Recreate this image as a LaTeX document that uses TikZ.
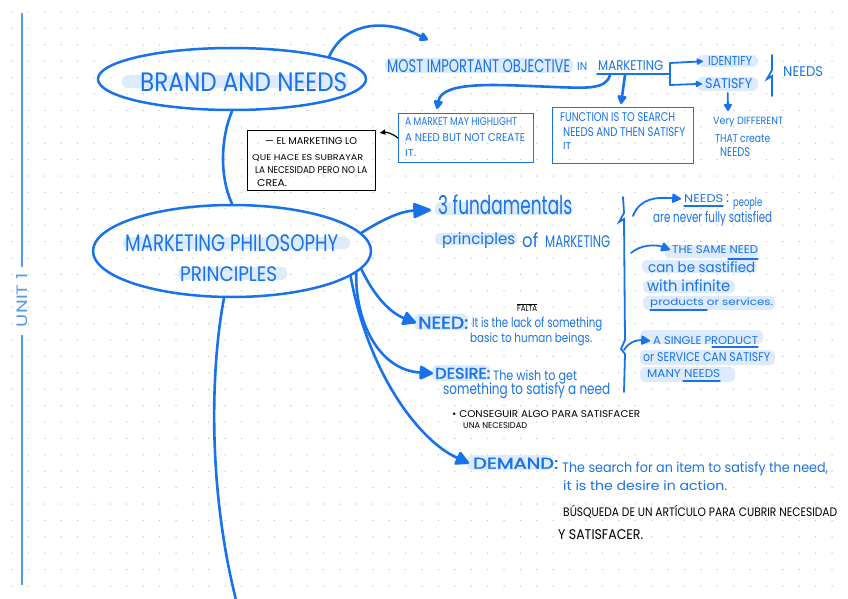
\documentclass[tikz,border=0pt]{standalone}
\usepackage{graphicx}
\usepackage{fontspec}
\setmainfont{Poppins}
\newfontfamily\boldhw[FakeBold=1.6]{Poppins}
\usetikzlibrary{shapes.geometric,arrows.meta}
\definecolor{bl}{RGB}{24,115,235}
\definecolor{bll}{RGB}{85,152,240}
\definecolor{hl}{RGB}{221,235,253}
\definecolor{dotc}{RGB}{196,196,202}
\newcommand\hw[3]{\resizebox*{#1pt}{#2pt}{#3}}
\begin{document}
\begin{tikzpicture}[x=1pt,y=-1pt,
  tx/.style={inner sep=0pt,anchor=south west,text=bl},
  txk/.style={inner sep=0pt,anchor=south west,text=black},
  hlbox/.style={fill=hl,rounded corners=5pt},
  conn/.style={draw=bl,line width=2.6pt,line cap=round},
  thin/.style={draw=bl,line width=1.8pt,line cap=round},
  bigtip/.style={-{Triangle[length=15pt,width=15pt,round]}},
  midtip/.style={-{Triangle[length=10pt,width=10pt,round]}},
  blob/.style={-{Latex[length=8pt,width=8pt,round]}},
  ell/.style={ellipse,draw=bl,line width=2.5pt,inner sep=0pt},
  bbox/.style={draw=bl,line width=1.3pt,anchor=north west,inner sep=0pt}
]
\useasboundingbox (0,0) rectangle (848,599);
\fill[white] (0,0) rectangle (848,599);
\foreach \i in {0,...,51}{\foreach \j in {0,...,36}{\fill[dotc] (12+16.4*\i,12+16.4*\j) circle (0.75);}}

% left unit line
\node[inner sep=0pt,text=bll,rotate=90] (unit) at (22,300) {\hw{54}{11}{UNIT 1}};
\coordinate (utop) at (22,13);
\coordinate (ubot) at (22,585);
\draw[bll,line width=1.6pt] (utop) -- ([yshift=6pt]unit.east);
\draw[bll,line width=1.6pt] ([yshift=-8pt]unit.west) -- (ubot);

% highlights
\fill[hlbox] (122,75) rectangle (348,88);
\fill[hlbox] (123,237) rectangle (350,249);
\fill[hlbox] (178,267) rectangle (287,280);
\fill[hlbox] (385,58) rectangle (573,73);
\fill[hlbox,rounded corners=6pt] (697,55) rectangle (758,67);
\fill[hlbox,rounded corners=6pt] (697,77) rectangle (758,91);
\fill[hlbox] (435,202) rectangle (573,215);
\fill[hlbox] (435,233) rectangle (517,245);
\fill[hlbox] (665,245) rectangle (758,258);
\fill[hlbox] (642,260) rectangle (757,273);
\fill[hlbox] (643,280) rectangle (735,293);
\fill[hlbox] (643,296) rectangle (775,310);
\fill[hlbox] (640,330) rectangle (763,344);
\fill[hlbox] (640,350) rectangle (775,365);
\fill[hlbox] (640,367) rectangle (735,382);
\fill[hlbox] (414,314) rectangle (468,330);
\fill[hlbox] (432,365) rectangle (490,381);
\fill[hlbox] (467,455) rectangle (552,470);

% ellipses
\node[ell,minimum width=268,minimum height=62] (brand) at (232,79) {};
\node[ell,minimum width=278,minimum height=92] (mkt) at (232,251) {};
\node[tx] (brandt) at (140,92) {\hw{207}{19}{BRAND AND NEEDS}};
\node[tx] (mktt1) at (125,252) {\hw{213}{17}{MARKETING PHILOSOPHY}};
\node[tx] (mktt2) at (180,282) {\hw{97}{15}{PRINCIPLES}};

% spine
\coordinate (bottomend) at (236,600);
\draw[conn] (brand.south) .. controls (220,140) and (220,178) .. (mkt.north);
\draw[conn] ([xshift=-8pt]mkt.south) .. controls (212,360) and (206,480) .. (bottomend);

% top objective
\node[tx] (most) at (387,73) {\hw{183}{13}{MOST IMPORTANT OBJECTIVE}};
\node[tx] (in) at (577,71) {\hw{10}{8}{IN}};
\node[tx] (mktg) at (598,71) {\hw{65}{10}{MARKETING}};
\coordinate (mostin) at (428,40);
\draw[conn,midtip] (brand.13) .. controls (345,22) and (385,18) .. (mostin);
\draw[thin] (597,74) -- (670,74);
\draw[thin] (670,63) -- (670,85);
\node[tx] (idn) at (708,66) {\hw{44}{9}{IDENTIFY}};
\node[tx] (sat) at (705,89) {\hw{47}{10}{SATISFY}};
\draw[thin,blob] (670,63) -- ([xshift=-5pt]idn.west);
\draw[thin,blob] (670,85) -- ([xshift=-3pt]sat.west);
\draw[thin] (772,55) -- (772,70) -- (767,79) -- (772,76) -- (772,96);
\node[tx] (needsr) at (783,77) {\hw{40}{10}{NEEDS}};
\coordinate (vdin) at (728,111);
\draw[thin,-{Triangle[length=8pt,width=9pt,round]}] ([xshift=-1pt,yshift=-4pt]sat.south) -- (vdin);
\node[tx] (vd1) at (713,127) {\hw{70}{10}{Very DIFFERENT}};
\node[tx] (vd2) at (715,143) {\hw{55}{8}{THAT create}};
\node[tx] (vd3) at (720,157) {\hw{30}{9}{NEEDS}};

% boxes
\node[bbox,minimum width=135,minimum height=49] (box1) at (398,113) {};
\node[bbox,minimum width=141,minimum height=56] (box2) at (552,107) {};
\node[tx] (b11) at (405,126) {\hw{112}{8}{A MARKET MAY HIGHLIGHT}};
\node[tx] (b12) at (405,142) {\hw{120}{8}{A NEED BUT NOT CREATE}};
\node[tx] (b13) at (405,157) {\hw{11}{7}{IT.}};
\node[tx] (b21) at (560,122) {\hw{115}{9}{FUNCTION IS TO SEARCH}};
\node[tx] (b22) at (563,137) {\hw{122}{9}{NEEDS AND THEN SATISFY}};
\node[tx] (b23) at (563,150) {\hw{8}{7}{IT}};
\coordinate (b1in) at (437,109);
\coordinate (b2in) at (621,104);
\coordinate (ul1) at (610,75);
\coordinate (ul2) at (625,75);
\draw[conn,midtip] (ul1) .. controls (606,90) and (585,88) .. (555,87) .. controls (500,85) and (442,80) .. (b1in);
\draw[conn,midtip] (ul2) -- (b2in);

% black box
\node[draw=black,line width=1.2pt,anchor=north west,inner sep=0pt,minimum width=128,minimum height=60] (kbox) at (247,130) {};
\node[txk] (k1) at (265,145) {\hw{92}{7}{— EL MARKETING LO}};
\node[txk] (k2) at (252,162) {\hw{111}{7}{QUE HACE ES SUBRAYAR}};
\node[txk] (k3) at (255,174) {\hw{112}{7}{LA NECESIDAD PERO NO LA}};
\node[txk] (k4) at (257,187) {\hw{30}{7}{CREA.}};
\draw[black,line width=1.2pt,-{Latex[length=6pt,width=6pt]}] (box1.west) .. controls (392,133) and (386,132) .. ([xshift=3pt,yshift=-3pt]kbox.north east);

% fundamentals
\coordinate (fundin) at (431,210);
\draw[conn,-{Triangle[length=20pt,width=16pt,round]}] (mkt.8) .. controls (385,218) and (402,211) .. (fundin);
\node[tx] (f1) at (438,215) {\hw{134}{20}{3 fundamentals}};
\node[tx] (f2) at (442,249) {\hw{73}{16}{principles}};
\node[tx] (f3) at (522,248) {\hw{16}{15}{of}};
\node[tx] (f4) at (545,248) {\hw{65}{12}{MARKETING}};

% right bracket
\draw[thin] (623,197) -- (624,213) -- (619,222) -- (624,219) -- (625,340) -- (621,349) -- (625,354) -- (624,392);
\node[tx] (nd1) at (684,203) {\hw{39}{8}{NEEDS}};
\node[tx] (nd1c) at (726,203) {\hw{3}{8}{:}};
\node[tx] (nd1p) at (733,210) {\hw{29}{12}{people}};
\node[tx] (nd2) at (653,226) {\hw{119}{15}{are never fully satisfied}};
\draw[thin,line width=1.3pt] (684,206) -- (723,206);
\draw[thin,midtip] (633,216) .. controls (640,198) and (656,197) .. ([xshift=-3pt]nd1.west);
\node[tx] (s1) at (672,254) {\hw{86}{8}{THE SAME NEED}};
\node[tx] (s2) at (648,273) {\hw{107}{11}{can be sastified}};
\node[tx] (s3) at (647,292) {\hw{83}{12}{with infinite}};
\node[tx] (s4) at (650,308) {\hw{123}{10}{products or services.}};
\draw[thin,line width=1.3pt] (728,259) -- (758,259);
\draw[thin,line width=1.3pt] (650,310) -- (707,310);
\draw[thin,midtip] (631,253) .. controls (640,245) and (655,244) .. ([xshift=-2pt]s1.west);
\node[tx] (g1) at (653,345) {\hw{105}{8}{A SINGLE PRODUCT}};
\node[tx] (g2) at (643,362) {\hw{127}{9}{or SERVICE CAN SATISFY}};
\node[tx] (g3) at (647,378) {\hw{73}{8}{MANY NEEDS}};
\draw[thin,line width=1.3pt] (712,347) -- (758,347);
\draw[thin,line width=1.3pt] (683,381) -- (720,381);
\draw[thin,midtip] (624,350) .. controls (630,340) and (640,340) .. ([xshift=-3pt]g1.west);

% need / desire / demand
\node[tx] (need) at (418,329) {\hw{50}{12}{\boldhw NEED:}};
\node[tx] (n1) at (472,331) {\hw{130}{14}{It is the lack of something}};
\node[tx] (n2) at (470,346) {\hw{122}{13}{basic to human beings.}};
\node[txk] (falta) at (517,312) {\hw{20}{6}{FALTA}};
\draw[black,line width=1pt] (517,304) -- (537,304);
\node[tx] (des) at (435,379) {\hw{55}{11}{\boldhw DESIRE:}};
\node[tx] (d1) at (493,384) {\hw{84}{14}{The wish to get}};
\node[tx] (d2) at (443,399) {\hw{167}{16}{something to satisfy a need}};
\node[txk] (k5) at (452,418) {\hw{188}{7}{• CONSEGUIR ALGO PARA SATISFACER}};
\node[txk] (k6) at (463,429) {\hw{64}{6}{UNA NECESIDAD}};
\node[tx] (dem) at (473,469) {\hw{85}{11}{\boldhw DEMAND:}};
\node[tx] (m1) at (562,476) {\hw{266}{14}{The search for an item to satisfy the need,}};
\node[tx] (m2) at (563,491) {\hw{164}{10}{it is the desire in action.}};
\node[txk] (k7) at (563,518) {\hw{274}{13}{BÚSQUEDA DE UN ARTÍCULO PARA CUBRIR NECESIDAD}};
\node[txk] (k8) at (558,540) {\hw{85}{10}{Y SATISFACER.}};
\draw[conn,bigtip] (mkt.-8) .. controls (372,292) and (388,312) .. ([xshift=-2pt]need.west);
\draw[conn,bigtip] (mkt.-10) .. controls (355,320) and (378,370) .. ([xshift=-2pt]des.west);
\draw[conn,bigtip] (mkt.-12) .. controls (368,372) and (418,440) .. ([xshift=-4pt]dem.west);
\end{tikzpicture}
\end{document}
